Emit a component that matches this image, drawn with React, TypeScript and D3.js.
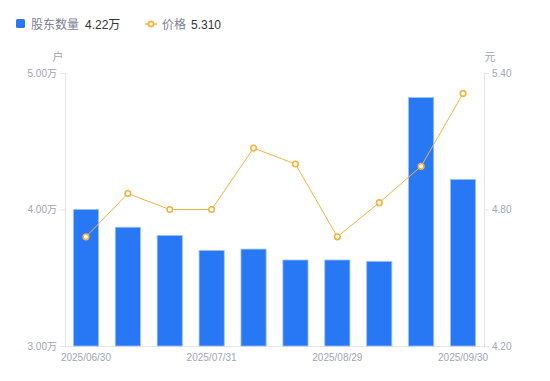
import React from "react";
import * as d3 from "d3";

const categories = [
  "2025/06/30", "2025/07/10", "2025/07/20", "2025/07/31", "2025/08/10",
  "2025/08/20", "2025/08/29", "2025/09/10", "2025/09/20", "2025/09/30",
];
const holders = [4.0, 3.87, 3.81, 3.7, 3.71, 3.63, 3.63, 3.62, 4.82, 4.22];
const prices = [4.68, 4.87, 4.8, 4.8, 5.07, 5.0, 4.68, 4.83, 4.99, 5.31];
const leftTicks = [3.0, 4.0, 5.0];
const rightTicks = [4.2, 4.8, 5.4];
const xLabelIdx = [0, 3, 6, 9];

const W = 550, H = 381;
const m = { l: 65, r: 66, t: 73, b: 35 };

export default function App() {
  const x = d3.scaleBand<string>().domain(categories).range([m.l, W - m.r]).paddingInner(0.4).paddingOuter(0.2);
  const yL = d3.scaleLinear().domain([3, 5]).range([H - m.b, m.t]);
  const yR = d3.scaleLinear().domain([4.2, 5.4]).range([H - m.b, m.t]);
  const line = d3.line<number>().x((_, i) => x(categories[i])! + x.bandwidth() / 2).y((d) => yR(d));
  const font = "'Liberation Sans', 'Noto Sans CJK SC', sans-serif";
  const gray = "#a1a5b3";
  const axisC = "#e3e5ea";
  const orange = "#f7b13c";
  const blue = "#2878f5";
  return (
    <svg width={W} height={H} style={{ position: "absolute", left: 0, top: 0 }} fontFamily={font}>
      {/* legend */}
      <rect x={16} y={19} width={9} height={9} rx={1.5} fill={blue} />
      <text x={31} y={28.5} fontSize={12} fill="#7d8190">股东数量</text>
      <text x={85} y={28.5} fontSize={12} fill="#333">4.22万</text>
      <line x1={145} x2={157} y1={24} y2={24} stroke={orange} strokeWidth={1.5} />
      <circle cx={151} cy={24} r={2.6} fill="#fff" stroke={orange} strokeWidth={1.8} />
      <text x={162} y={28.5} fontSize={12} fill="#7d8190">价格</text>
      <text x={191} y={28.5} fontSize={12} fill="#333">5.310</text>

      {/* axis names */}
      <text x={58} y={61} fontSize={11} fill={gray} textAnchor="middle">户</text>
      <text x={490} y={61} fontSize={11} fill={gray} textAnchor="middle">元</text>

      {/* axes */}
      <line x1={m.l + 0.5} x2={m.l + 0.5} y1={m.t} y2={H - m.b} stroke={axisC} />
      <line x1={W - m.r + 0.5} x2={W - m.r + 0.5} y1={m.t} y2={H - m.b} stroke={axisC} />
      <line x1={m.l} x2={W - m.r} y1={H - m.b + 0.5} y2={H - m.b + 0.5} stroke={axisC} />
      {leftTicks.map((t) => (
        <g key={"l" + t}>
          <line x1={m.l - 5} x2={m.l} y1={yL(t) + 0.5} y2={yL(t) + 0.5} stroke={axisC} />
          <text x={m.l - 8} y={yL(t) + 3.5} fontSize={10} fill={gray} textAnchor="end">{t.toFixed(2)}万</text>
        </g>
      ))}
      {rightTicks.map((t) => (
        <g key={"r" + t}>
          <line x1={W - m.r} x2={W - m.r + 5} y1={yR(t) + 0.5} y2={yR(t) + 0.5} stroke={axisC} />
          <text x={W - m.r + 8} y={yR(t) + 3.5} fontSize={10} fill={gray}>{t.toFixed(2)}</text>
        </g>
      ))}
      {xLabelIdx.map((i) => (
        <text key={i} x={x(categories[i])! + x.bandwidth() / 2} y={H - m.b + 15} fontSize={10} fill={gray} textAnchor="middle">{categories[i]}</text>
      ))}

      {/* bars */}
      {holders.map((v, i) => (
        <rect key={i} x={x(categories[i])!} y={yL(v)} width={x.bandwidth()} height={yL(3) - yL(v)} fill={blue} stroke="#9cc1fa" strokeWidth={0.8} />
      ))}

      {/* line */}
      <path d={line(prices)!} fill="none" stroke={orange} strokeWidth={1} />
      {prices.map((p, i) => (
        <circle key={i} cx={x(categories[i])! + x.bandwidth() / 2} cy={yR(p)} r={2.8} fill="#fff" stroke={orange} strokeWidth={1.6} />
      ))}
    </svg>
  );
}
